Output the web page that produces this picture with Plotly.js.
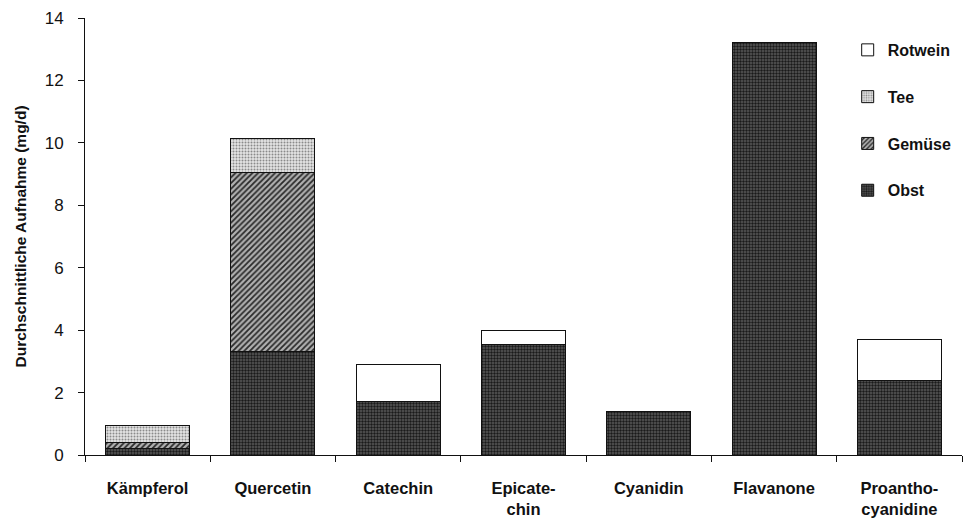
<!DOCTYPE html>
<html>
<head>
<meta charset="utf-8">
<script src="https://cdn.plot.ly/plotly-3.0.1.min.js"></script>
<style>body{margin:0;background:#fff}#chart{width:971px;height:523px}</style>
</head>
<body>
<div id="chart"></div>
<script>
const categories = ["Kämpferol", "Quercetin", "Catechin", "Epicate-<br>chin", "Cyanidin", "Flavanone", "Proantho-<br>cyanidine"];
const obst    = [0.2, 3.3, 1.7, 3.55, 1.4, 13.2, 2.4];
const gemuese = [0.2, 5.75, 0, 0, 0, 0, 0];
const tee     = [0.55, 1.1, 0, 0, 0, 0, 0];
const rotwein = [0, 0, 1.2, 0.45, 0, 0, 1.3];
const yTicks  = [0, 2, 4, 6, 8, 10, 12, 14];

const line = {color: "#111", width: 1};
const traces = [
  {name: "Obst", y: obst, legendrank: 4, marker: {color: "#3c3c3c", line: line, pattern: {shape: ".", fgcolor: "#1a1a1a", bgcolor: "#5a5a5a", size: 3, solidity: 0.5}}},
  {name: "Gemüse", y: gemuese, legendrank: 3, marker: {color: "#8a8a8a", line: line, pattern: {shape: "/", fgcolor: "#2a2a2a", bgcolor: "#b0b0b0", size: 4, solidity: 0.45}}},
  {name: "Tee", y: tee, legendrank: 2, marker: {color: "#cfcfcf", line: line, pattern: {shape: ".", fgcolor: "#8a8a8a", bgcolor: "#e4e4e4", size: 3, solidity: 0.35}}},
  {name: "Rotwein", y: rotwein, legendrank: 1, marker: {color: "#ffffff", line: line}}
].map((t, i) => Object.assign({type: "bar", x: categories, width: 0.67, legendgroup: "g" + i, hoverinfo: "skip"}, t));

const layout = {
  width: 971, height: 523,
  margin: {l: 85, r: 9, t: 18, b: 68, autoexpand: false},
  paper_bgcolor: "#fff", plot_bgcolor: "#fff",
  barmode: "stack",
  font: {family: "Liberation Sans, Arial, sans-serif", color: "#111"},
  xaxis: {
    showline: true, linecolor: "#111", linewidth: 1,
    ticks: "outside", tickson: "boundaries", ticklen: 6, tickcolor: "#111",
    ticklabelstandoff: 18,
    tickfont: {size: 16.5, family: "Liberation Sans, Arial, sans-serif", weight: "bold"},
    showgrid: false, zeroline: false
  },
  yaxis: {
    range: [0, 14], tickvals: yTicks, showline: true, linecolor: "#111", linewidth: 1,
    ticks: "outside", ticklen: 6, tickcolor: "#111", ticklabelstandoff: 11,
    tickfont: {size: 17}, showgrid: false, zeroline: false,
    title: {text: "Durchschnittliche Aufnahme (mg/d)", font: {size: 15.5, weight: "bold"}, standoff: 14}
  },
  legend: {
    xref: "container", yref: "container",
    x: 0.873, y: 0.937, xanchor: "left", yanchor: "top",
    traceorder: "grouped", tracegroupgap: 23,
    font: {size: 16, weight: "bold"}, bgcolor: "rgba(0,0,0,0)"
  },
  showlegend: true
};

Plotly.newPlot("chart", traces, layout, {staticPlot: true, displayModeBar: false});
</script>
</body>
</html>
